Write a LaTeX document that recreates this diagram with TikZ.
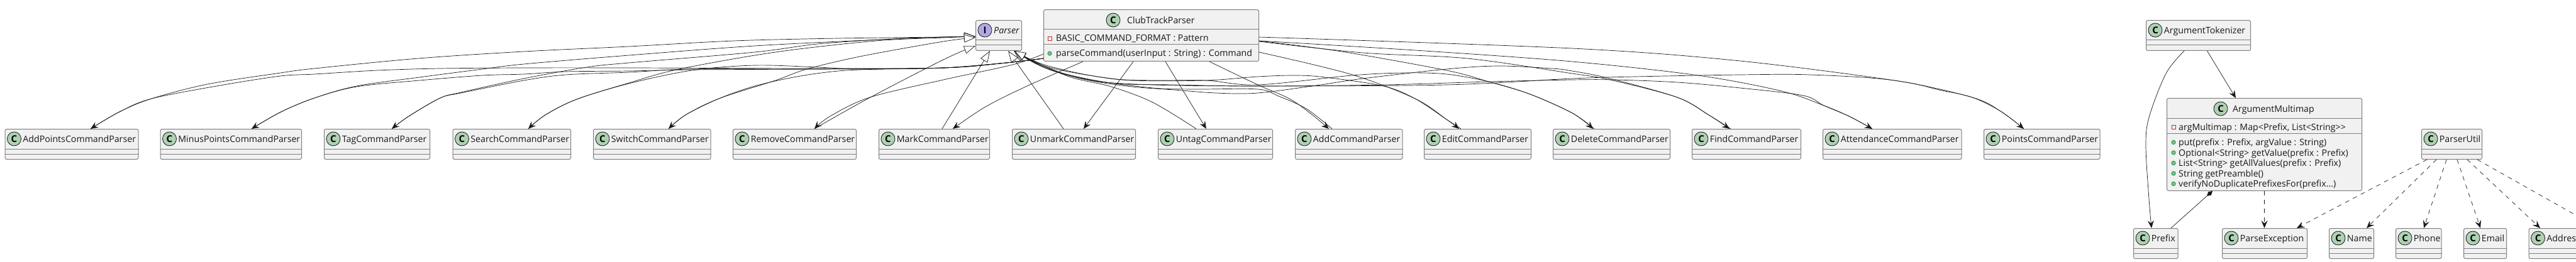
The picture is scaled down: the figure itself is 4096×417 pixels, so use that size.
\documentclass[tikz,border=0pt]{standalone}
\usepackage{fontspec}
\setmainfont{Open Sans}
\usetikzlibrary{arrows.meta}
\definecolor{ink}{HTML}{181818}
\definecolor{boxline}{HTML}{7F7F7F}
\definecolor{boxfill}{HTML}{F1F1F1}
\definecolor{classgreen}{HTML}{ADD1B2}
\definecolor{ifacepurple}{HTML}{B4A7E5}
\definecolor{privred}{HTML}{C82930}
\definecolor{pubgreen}{HTML}{84BE84}
\definecolor{publine}{HTML}{038048}
\newlength{\boxw}
\tikzset{
  classbox/.style={draw=boxline,fill=boxfill,line width=1pt,rounded corners=2.5pt,inner sep=0pt,anchor=north west},
  sepline/.style={draw=boxline,line width=1pt},
  badge/.style={circle,draw=ink,line width=.8pt,minimum size=22pt,inner sep=0pt,text=black,font=\fontsize{15}{15}\selectfont\bfseries},
  title/.style={anchor=base west,inner sep=0pt,text=ink,font=\fontsize{14.2}{14.2}\selectfont},
  member/.style={anchor=base west,inner sep=0pt,text=ink,font=\fontsize{14.2}{14.2}\selectfont},
  assoc/.style={draw=ink,line width=.7pt,-{Stealth[length=12pt,width=10pt,inset=4.5pt]}},
  inherit/.style={draw=ink,line width=.7pt,-{Triangle[open,fill=white,length=18pt,width=13pt]}},
  depend/.style={assoc,dash pattern=on 7pt off 7pt},
  compose/.style={draw=ink,line width=.7pt,{Diamond[length=12pt,width=7pt]}-},
  privmark/.style={draw=privred,line width=.9pt,minimum size=6pt,inner sep=0pt},
  pubmark/.style={circle,draw=publine,fill=pubgreen,line width=.6pt,minimum size=6.5pt,inner sep=0pt},
}
% name, x1, x2, y1, label : a class box with empty compartments
\newcommand{\cls}[5]{%
  \pgfmathsetlength{\boxw}{#3-#2}%
  \node[classbox,minimum width=\boxw,minimum height=48pt] (#1) at (#2,#4) {};
  \draw[sepline] ([yshift=-32pt]#1.north west) -- ([yshift=-32pt]#1.north east);
  \draw[sepline] ([yshift=-40pt]#1.north west) -- ([yshift=-40pt]#1.north east);
  \node[badge,fill=classgreen] (#1-c) at ([xshift=15pt,yshift=-16pt]#1.north west) {C};
  \node[title] (#1-t) at ([xshift=28.7pt,yshift=-21.5pt]#1.north west) {#5};
}
\newcommand{\link}[3]{\draw[#1] plot[smooth,tension=.55] coordinates {#2 #3};}
\begin{document}
\begin{tikzpicture}[x=1pt,y=-1pt]
\useasboundingbox (0,0) rectangle (4096,417);
\clip (0,0) rectangle (4096,417);

\cls{AddPoints}{7.5}{219.5}{205}{AddPointsCommandParser}
\cls{MinusPoints}{254.5}{479}{205}{MinusPointsCommandParser}
\cls{Tag}{515}{683}{205}{TagCommandParser}
\cls{Search}{719.5}{907}{205}{SearchCommandParser}
\cls{Switch}{943}{1129.5}{205}{SwitchCommandParser}
\cls{Remove}{1165}{1361}{205}{RemoveCommandParser}
\cls{Mark}{1397}{1573}{205}{MarkCommandParser}
\cls{Unmark}{1609}{1805}{205}{UnmarkCommandParser}
\cls{Untag}{1841}{2023}{205}{UntagCommandParser}
\cls{Add}{2059}{2229.5}{205}{AddCommandParser}
\cls{Edit}{2264}{2434}{205}{EditCommandParser}
\cls{Delete}{2469}{2655}{205}{DeleteCommandParser}
\cls{Find}{2690}{2863}{205}{FindCommandParser}
\cls{Attendance}{2898}{3118.5}{205}{AttendanceCommandParser}
\cls{Points}{3154}{3338.5}{205}{PointsCommandParser}
\cls{ParserUtil}{3850}{3946}{205}{ParserUtil}
\cls{Tokenizer}{3412}{3578}{32}{ArgumentTokenizer}
\cls{Prefix}{3392}{3462.5}{363}{Prefix}
\cls{ParseException}{3533}{3668}{363}{ParseException}
\cls{Name}{3703}{3774}{363}{Name}
\cls{Phone}{3809}{3881.5}{363}{Phone}
\cls{Email}{3917}{3985}{363}{Email}
\cls{Address}{4020.5}{4130}{363}{Address}

% Parser interface
\node[classbox,minimum width=73pt,minimum height=48pt] (Parser) at (1551,32) {};
\draw[sepline] ([yshift=-32pt]Parser.north west) -- ([yshift=-32pt]Parser.north east);
\draw[sepline] ([yshift=-40pt]Parser.north west) -- ([yshift=-40pt]Parser.north east);
\node[badge,fill=ifacepurple,font=\fontsize{15}{15}\rmfamily\bfseries] (Parser-c) at ([xshift=15pt,yshift=-16pt]Parser.north west) {I};
\node[title,font=\fontsize{14.2}{14.2}\selectfont\itshape] (Parser-t) at ([xshift=29pt,yshift=-21.5pt]Parser.north west) {Parser};

% ClubTrackParser
\node[classbox,minimum width=342pt,minimum height=82pt] (Club) at (1659,15) {};
\draw[sepline] ([yshift=-32pt]Club.north west) -- ([yshift=-32pt]Club.north east);
\draw[sepline] ([yshift=-56pt]Club.north west) -- ([yshift=-56pt]Club.north east);
\node[badge,fill=classgreen] (Club-c) at ([xshift=111pt,yshift=-17pt]Club.north west) {C};
\node[title] (Club-t) at ([xshift=133pt,yshift=-22.5pt]Club.north west) {ClubTrackParser};
\node[privmark] (Club-m1) at ([xshift=10pt,yshift=-46pt]Club.north west) {};
\node[member] (Club-f1) at ([xshift=20pt,yshift=-51pt]Club.north west) {BASIC\_COMMAND\_FORMAT : Pattern};
\node[pubmark] (Club-m2) at ([xshift=10pt,yshift=-70pt]Club.north west) {};
\node[member] (Club-f2) at ([xshift=20pt,yshift=-75pt]Club.north west) {parseCommand(userInput : String) : Command};

% ArgumentMultimap
\node[classbox,minimum width=310pt,minimum height=147pt] (Multimap) at (3445,156) {};
\draw[sepline] ([yshift=-32pt]Multimap.north west) -- ([yshift=-32pt]Multimap.north east);
\draw[sepline] ([yshift=-56pt]Multimap.north west) -- ([yshift=-56pt]Multimap.north east);
\node[badge,fill=classgreen] (Multimap-c) at ([xshift=86pt,yshift=-17pt]Multimap.north west) {C};
\node[title] (Multimap-t) at ([xshift=105pt,yshift=-22.5pt]Multimap.north west) {ArgumentMultimap};
\node[privmark] (Multimap-m1) at ([xshift=11pt,yshift=-46pt]Multimap.north west) {};
\node[member] (Multimap-f1) at ([xshift=19pt,yshift=-51pt]Multimap.north west) {argMultimap : Map<Prefix, List<String>{}>};
\node[pubmark] (Multimap-m2) at ([xshift=11pt,yshift=-70.5pt]Multimap.north west) {};
\node[member] (Multimap-f2) at ([xshift=19pt,yshift=-75.5pt]Multimap.north west) {put(prefix : Prefix, argValue : String)};
\node[pubmark] (Multimap-m3) at ([xshift=11pt,yshift=-87pt]Multimap.north west) {};
\node[member] (Multimap-f3) at ([xshift=19pt,yshift=-92pt]Multimap.north west) {Optional<String> getValue(prefix : Prefix)};
\node[pubmark] (Multimap-m4) at ([xshift=11pt,yshift=-103.5pt]Multimap.north west) {};
\node[member] (Multimap-f4) at ([xshift=19pt,yshift=-108.5pt]Multimap.north west) {List<String> getAllValues(prefix : Prefix)};
\node[pubmark] (Multimap-m5) at ([xshift=11pt,yshift=-120pt]Multimap.north west) {};
\node[member] (Multimap-f5) at ([xshift=19pt,yshift=-125pt]Multimap.north west) {String getPreamble()};
\node[pubmark] (Multimap-m6) at ([xshift=11pt,yshift=-136.5pt]Multimap.north west) {};
\node[member] (Multimap-f6) at ([xshift=19pt,yshift=-141.5pt]Multimap.north west) {verifyNoDuplicatePrefixesFor(prefix...)};

% children realise Parser, left group
\link{inherit}{(144,0 |- AddPoints.north) (190,178) (241,157) (330,134) (446,116) (500,109) (665,93) (833,82) (1000,74) (1167,65) (1333,61) (1500,59)}{(Parser.west |- 0,58)}
\link{inherit}{(400,0 |- MinusPoints.north) (447,178) (500,156) (567,137) (667,123) (767,110) (833,102) (1000,88) (1200,73) (1400,63) (1500,59)}{(Parser.west |- 0,58)}
\link{inherit}{(623,0 |- Tag.north) (650,185) (700,156) (733,147) (833,125) (933,107) (1000,100) (1200,83) (1300,70) (1417,62) (1500,59)}{(Parser.west |- 0,58)}
\link{inherit}{(840,0 |- Search.north) (867,183) (917,158) (1000,132) (1080,110) (1233,83) (1393,65) (1500,60)}{(Parser.west |- 0,58)}
\link{inherit}{(1063,0 |- Switch.north) (1090,183) (1143,157) (1233,128) (1283,110) (1367,90) (1500,66)}{(Parser.west |- 0,60)}
\link{inherit}{(1295,0 |- Remove.north) (1380,157) (1500,95)}{(Parser.west |- 0,73)}
% ClubTrackParser uses children, left group
\link{assoc}{(Club.west |- 0,93) (1600,100) (1500,108) (1300,109) (1000,108) (833,108) (700,109) (600,112) (500,118) (446,121) (350,136) (241,157) (190,178)}{(144,0 |- AddPoints.north)}
\link{assoc}{(Club.west |- 0,93) (1600,100) (1500,108) (1300,110) (1100,111) (1000,113) (900,114) (833,118) (767,120) (667,128) (567,138) (500,156) (447,178)}{(400,0 |- MinusPoints.north)}
\link{assoc}{(Club.west |- 0,93) (1600,100) (1500,108) (1300,110) (1100,110) (1000,115) (900,119) (833,128) (733,148) (700,156) (650,185)}{(623,0 |- Tag.north)}
\link{assoc}{(Club.west |- 0,93) (1600,100) (1500,108) (1367,110) (1300,107) (1200,104) (1100,112) (1000,133) (917,158) (867,183)}{(840,0 |- Search.north)}
\link{assoc}{(Club.west |- 0,93) (1600,100) (1500,108) (1400,110) (1333,113) (1267,122) (1200,137) (1143,157) (1090,183)}{(1063,0 |- Switch.north)}
\link{assoc}{(Club.west |- 0,86) (1610,103) (1500,127) (1383,155) (1320,185)}{(1295,0 |- Remove.north)}

% straight ones near the middle
\draw[inherit] (1498,0 |- Mark.north) -- (1574,0 |- Parser.south);
\draw[inherit] (1691,0 |- Unmark.north) -- (1603,0 |- Parser.south);
\draw[assoc] (1802,0 |- Club.south) -- (1723,0 |- Unmark.north);
\draw[assoc] (1853,0 |- Club.south) -- (1918,0 |- Untag.north);
\link{assoc}{(1722,0 |- Club.south) (1633,137) (1567,170)}{(1515,0 |- Mark.north)}
\link{inherit}{(1902,0 |- Untag.north) (1833,163) (1767,138) (1700,122) (1630,91)}{(1612,0 |- Parser.south)}
\link{assoc}{(1923,0 |- Club.south) (2000,135) (2050,157) (2083,180)}{(2113,0 |- Add.north)}

% children realise Parser, right group
\link{inherit}{(2118,0 |- Add.north) (2077,173) (2033,153) (2000,142) (1900,142) (1833,140) (1733,127) (1667,110)}{(1613,0 |- Parser.south)}
\link{inherit}{(2323,0 |- Edit.north) (2300,190) (2250,157) (2200,137) (2107,123) (2060,120) (2000,122) (1917,128) (1800,128) (1733,120) (1667,105) (1633,92)}{(1613,0 |- Parser.south)}
\link{inherit}{(2535,0 |- Delete.north) (2500,180) (2433,150) (2367,130) (2300,118) (2233,116) (2150,120) (2000,135) (1917,128) (1833,128) (1767,125) (1667,107)}{(1613,0 |- Parser.south)}
\link{inherit}{(2752,0 |- Find.north) (2717,183) (2667,155) (2560,125) (2500,113) (2467,109) (2383,105) (2300,110) (2167,125) (2100,135) (2000,148) (1933,148) (1867,143) (1800,138) (1733,128) (1667,110)}{(1613,0 |- Parser.south)}
\link{inherit}{(2977,0 |- Attendance.north) (2940,185) (2900,168) (2867,152) (2767,140) (2667,131) (2567,127) (2500,127) (2367,130) (2200,135) (2000,137) (1867,135) (1767,132) (1667,110)}{(1613,0 |- Parser.south)}
\link{inherit}{(3218,0 |- Points.north) (3181,177) (3136,155) (3012,128) (2878,119) (2767,119) (2600,122) (2500,125) (2300,135) (2000,137) (1833,135) (1733,128) (1667,108)}{(1613,0 |- Parser.south)}
% ClubTrackParser uses children, right group
\link{assoc}{(Club.east |- 0,83) (2147,118) (2250,157) (2300,190)}{(2320,0 |- Edit.north)}
\link{assoc}{(Club.east |- 0,65) (2133,82) (2300,112) (2367,130) (2433,150) (2500,180)}{(2533,0 |- Delete.north)}
\link{assoc}{(Club.east |- 0,66) (2167,84) (2333,93) (2500,117) (2560,127) (2667,155) (2717,183)}{(2750,0 |- Find.north)}
\link{assoc}{(Club.east |- 0,65) (2250,80) (2500,98) (2700,120) (2833,145) (2900,168) (2940,185)}{(2977,0 |- Attendance.north)}
\link{assoc}{(Club.east |- 0,59) (2500,77) (2767,97) (3012,128) (3083,143) (3136,155) (3181,177)}{(3218,0 |- Points.north)}

% argument classes
\draw[assoc] (3509.5,0 |- Tokenizer.south) -- (3555,0 |- Multimap.north);
\link{assoc}{(3473,0 |- Tokenizer.south) (3444,117) (3417,187) (3412,233) (3417,317)}{(3421,0 |- Prefix.north)}
\draw[compose] (3518,0 |- Multimap.south) -- (3452,0 |- Prefix.north);
\draw[depend] (Multimap.south) -- (Multimap.south |- ParseException.north);

% ParserUtil dependencies
\coordinate (offpage) at (4132,363);
\draw[depend] (3859,0 |- ParserUtil.south) -- (3652,0 |- ParseException.north);
\draw[depend] (3874,0 |- ParserUtil.south) -- (3763,0 |- Name.north);
\draw[depend] (3890,0 |- ParserUtil.south) -- (3854,0 |- Phone.north);
\draw[depend] (3907,0 |- ParserUtil.south) -- (3944,0 |- Email.north);
\draw[depend] (3923,0 |- ParserUtil.south) -- (4039,0 |- Address.north);
\draw[depend] (3939,0 |- ParserUtil.south) -- (offpage);
\end{tikzpicture}
\end{document}
